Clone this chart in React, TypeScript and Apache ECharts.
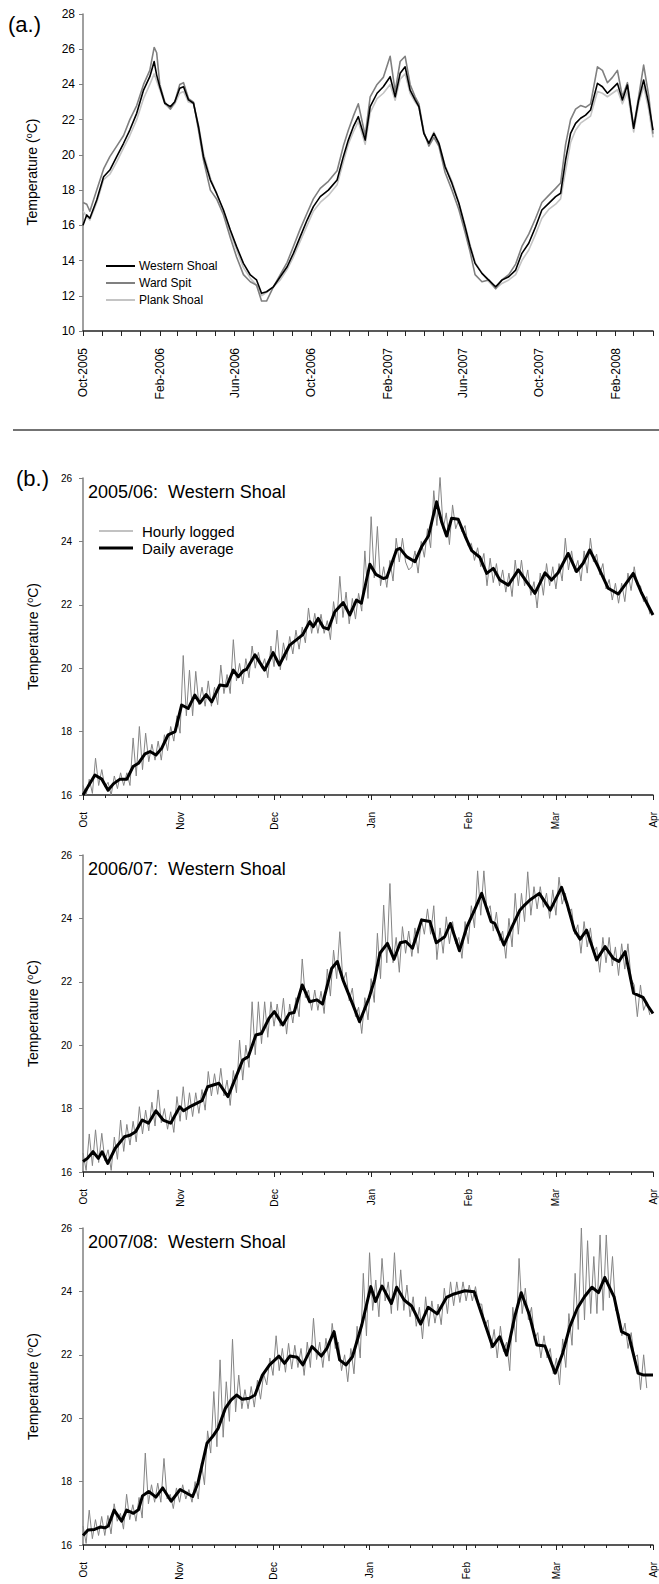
import React, { useEffect, useRef } from "react";
import * as echarts from "echarts";

// ---------- (a.) three sites, daily temperature ----------
const TOP_DAYS = [0,6,11,22,33,43,54,65,75,86,97,107,114,118,123,131,140,147,155,161,169,177,185,193,204,214,225,236,246,257,268,278,286,294,305,316,327,337,348,359,369,380,393,407,417,425,433,441,452,460,471,481,492,500,508,516,524,532,538,546,554,562,570,580,591,602,612,620,628,639,650,661,671,682,693,703,714,725,735,746,757,765,773,781,789,797,805,813,824,832,840,848,856,864,872,882,890,898,906,913];
const WESTERN_SHOAL = [16.0,16.59,16.4,17.44,18.76,19.14,19.9,20.66,21.41,22.36,23.68,24.44,25.3,24.53,23.87,22.93,22.74,23.02,23.78,23.87,23.12,22.93,21.6,19.9,18.57,17.81,16.87,15.73,14.79,13.84,13.18,12.9,12.14,12.23,12.51,13.08,13.65,14.41,15.36,16.3,17.06,17.63,18.0,18.57,19.9,20.84,21.6,22.17,20.84,22.74,23.5,23.87,24.44,23.3,24.63,25.0,23.68,23.12,22.74,21.22,20.66,21.22,20.66,19.33,18.38,17.25,15.92,14.79,13.84,13.27,12.89,12.51,12.89,13.08,13.46,14.41,14.98,15.92,16.87,17.25,17.63,17.82,19.71,21.22,21.79,22.08,22.26,22.55,24.06,23.87,23.5,23.78,24.06,23.12,23.97,21.51,23.12,24.25,22.93,21.41];
const WARD_SPIT = [17.3,17.2,16.8,18.0,19.2,19.9,20.5,21.1,22.0,22.8,24.0,24.8,26.1,25.8,24.0,23.0,22.6,23.0,24.0,24.1,23.2,23.0,21.4,19.7,18.0,17.5,16.6,15.3,14.2,13.2,12.8,12.6,11.7,11.7,12.5,13.2,13.9,14.8,15.8,16.7,17.5,18.1,18.5,19.1,20.5,21.4,22.2,22.9,21.1,23.3,24.0,24.4,25.6,23.6,25.3,25.6,24.0,23.3,22.9,21.3,20.5,21.0,20.5,19.0,18.0,16.9,15.6,14.5,13.2,12.8,12.9,12.4,12.9,13.2,13.8,14.8,15.5,16.4,17.3,17.7,18.1,18.4,20.6,22.0,22.6,22.8,22.7,22.9,25.0,24.8,24.1,24.4,24.8,23.3,24.1,21.6,23.3,25.1,23.4,21.2];
const PLANK_SHOAL = [16.8,16.5,16.3,17.3,18.6,18.9,19.6,20.4,21.1,22.0,23.2,24.0,24.6,24.2,23.7,22.9,22.6,22.9,23.5,23.6,23.0,22.9,21.7,20.1,18.7,17.8,16.8,15.6,14.6,13.6,13.0,12.6,12.0,12.2,12.5,12.9,13.5,14.2,15.1,16.0,16.8,17.3,17.7,18.3,19.6,20.6,21.3,21.9,20.6,22.4,23.2,23.5,24.0,23.1,24.3,24.6,23.5,23.0,22.7,21.2,20.7,21.3,20.7,19.4,18.5,17.3,16.0,14.9,13.9,13.3,12.8,12.4,12.7,12.9,13.2,14.0,14.6,15.5,16.4,16.9,17.2,17.5,19.1,20.7,21.4,21.8,22.0,22.2,23.6,23.5,23.3,23.5,23.7,22.9,23.6,21.3,22.9,23.9,22.6,21.0];
const TOP_TICK_LABELS = ["Oct-2005","Feb-2006","Jun-2006","Oct-2006","Feb-2007","Jun-2007","Oct-2007","Feb-2008"];
const TOP_Y_TICKS = [10, 28, 2];

// ---------- (b.) Western Shoal, daily average (vertices) ----------
const B1_DAYS = [0,3.8,6,8,9.7,11.8,14,16,17.7,19.8,21.4,23.3,25.1,27.2,29.4,31.5,33.6,35.7,37.3,39.3,41.1,43.7,45.9,48,49.6,51.2,52.2,54.9,58,60.7,62.7,66,68.2,70.1,72.4,73.5,75.1,76.7,78.3,80.4,83.1,85.2,87.3,88.9,91.6,93.5,95.9,97,100.1,101.2,103.3,106,108.1,110.3,112.9,114.5,116.1,117.7,119.8,122,124.1,126.7,128.9,131,133.1,135.8,139,141.6,144.3,147.5,149.6,151.7,154.9,157.6,159.7,161.8,164.5,167.7,170.9,173,175.7,178.3,182];
const B1_AVG = [16.0,16.63,16.5,16.15,16.35,16.5,16.5,16.9,17.0,17.3,17.37,17.26,17.47,17.9,18.0,18.84,18.73,19.15,18.9,19.17,18.94,19.47,19.44,19.94,19.73,19.92,19.96,20.42,19.94,20.49,20.1,20.73,20.9,21.05,21.47,21.31,21.57,21.29,21.23,21.78,22.07,21.68,22.15,22.05,23.28,22.96,22.83,22.86,23.73,23.78,23.52,23.36,23.83,24.17,25.25,24.62,24.17,24.73,24.7,24.17,23.71,23.5,22.99,23.15,22.78,22.62,23.1,22.73,22.36,23.01,22.78,23.01,23.62,23.05,23.31,23.73,23.2,22.52,22.34,22.62,22.99,22.38,21.68];
const B2_DAYS = [0,1.4,3.2,4.9,6.1,7.9,10.3,13.2,15,16.8,18.9,20.9,23.3,25.6,28,30.9,32.1,34.5,38,39.8,43.4,46.3,49.3,51,52.8,55.2,57,59.4,61.1,63.8,65.9,67.4,70,72.4,74.7,76.5,79.4,81.2,83,86,88.3,91.3,93.1,94.8,97.2,99.3,101.3,103.1,105.2,108.1,110.8,112.8,115.5,117.3,120.2,122.6,125,127.3,130.3,131.5,134.4,136.8,139.5,141,142.7,145.7,149.2,152.8,154.5,156.9,158.7,160.8,164,166.7,169.3,171.1,173.1,175.8,178.8,180.5,182];
const B2_AVG = [16.33,16.43,16.64,16.43,16.64,16.27,16.75,17.11,17.16,17.27,17.64,17.54,17.93,17.64,17.54,18.06,17.93,18.08,18.25,18.69,18.8,18.38,19.11,19.53,19.64,20.32,20.37,20.85,21.06,20.64,21.0,21.03,21.9,21.37,21.43,21.3,22.42,22.64,22.06,21.32,20.74,21.48,22.06,22.9,23.21,22.71,23.23,23.27,23.06,23.95,23.9,23.23,23.42,23.84,22.98,23.74,24.26,24.79,23.9,23.84,23.16,23.69,24.26,24.42,24.58,24.79,24.26,24.98,24.48,23.63,23.34,23.63,22.69,23.11,22.74,22.64,22.95,21.64,21.51,21.22,21.0];
const B3_DAYS = [0,1.6,3.7,5.7,7,8.1,10,12.4,14,16.2,17.8,19.1,21.1,23.4,25.6,28.3,31.2,35.2,36.9,39.8,41.6,43.4,45.7,47.5,49.3,51.1,53.4,55.2,57.6,59.9,62.9,64.7,66.4,68.8,70.6,73.5,76.5,78.3,80.6,82.4,84.4,86.5,89.5,92.4,93.9,96,99,100.7,103.1,105.5,108.4,110.8,113.7,116.7,119.1,122.6,125.6,127.9,131.5,133.8,136,138.6,140.7,143.3,145.7,148.3,151.6,154,156.3,158.7,161,163.4,165.5,167.5,170.5,172.9,175.2,178.2,180,183];
const B3_AVG = [16.3,16.47,16.49,16.57,16.54,16.6,17.1,16.75,17.1,17.0,17.11,17.55,17.69,17.51,17.8,17.38,17.75,17.53,17.95,19.21,19.42,19.68,20.31,20.57,20.73,20.6,20.63,20.73,21.36,21.68,21.96,21.73,21.96,21.92,21.68,22.26,21.96,22.2,22.73,21.84,21.68,21.94,22.94,24.15,23.68,24.17,23.62,24.13,23.73,23.54,22.97,23.5,23.29,23.81,23.92,24.02,23.99,23.31,22.26,22.57,21.99,23.2,23.96,23.26,22.31,22.28,21.42,22.05,22.89,23.47,23.83,24.13,23.96,24.44,23.83,22.73,22.62,21.42,21.36,21.36];

// ---------- hourly logged: high / low of each 2-day block (day 0, 2, 4 ...) ----------
const B1_HI = [16.3,16.5,17.16,16.8,16.4,16.6,16.7,16.7,17.8,18.16,17.95,17.6,17.7,17.9,18.16,18.5,20.4,19.94,19.9,19.4,19.6,19.4,20.1,19.8,20.9,20.15,20.3,20.7,20.5,20.3,20.7,21.2,20.8,21.0,21.2,21.3,21.9,21.73,21.7,21.5,22.1,22.9,22.4,22.2,22.36,23.7,24.78,24.47,23.2,23.4,24.1,24.1,23.1,23.7,24.0,24.4,25.6,26.04,24.9,25.15,24.7,24.5,23.94,23.8,23.62,23.47,23.3,23.1,23.0,23.41,23.41,23.1,22.73,23.0,23.3,23.2,23.3,24.1,23.7,23.4,23.7,24.1,23.6,23.3,22.8,22.68,22.68,23.0,23.2,22.6,22.26];
const B1_LO = [16.0,16.05,16.3,16.25,16.0,16.2,16.3,16.3,16.6,16.8,17.05,17.1,17.1,17.4,17.7,17.95,18.5,18.5,18.85,18.8,18.8,18.85,19.2,19.2,19.6,19.5,19.7,20.0,20.0,19.7,20.05,19.95,20.25,20.45,20.6,20.8,21.1,21.1,21.1,20.9,21.4,21.6,21.4,21.55,21.8,22.2,22.85,22.6,22.55,22.75,23.35,23.35,23.2,23.0,23.5,23.8,24.5,24.4,23.9,24.4,24.3,23.85,23.4,23.2,22.6,22.7,22.6,22.4,22.26,22.6,22.6,22.3,21.9,22.3,22.6,22.5,22.75,23.1,23.05,22.75,23.0,23.35,22.95,22.5,22.15,22.05,22.1,22.45,22.6,22.1,21.7];
const B2_HI = [16.6,17.2,17.33,17.22,16.7,17.1,17.64,17.5,17.6,18.06,17.95,18.2,18.59,18.0,17.9,18.38,18.69,18.5,18.5,18.6,19.17,19.1,19.27,18.9,19.2,20.16,20.0,21.37,21.37,21.37,21.37,21.3,21.48,21.3,21.5,22.72,21.74,21.74,21.7,22.4,23.0,23.58,22.3,21.8,21.2,21.5,22.1,23.53,24.42,25.1,23.4,23.74,23.6,23.7,24.0,24.3,24.4,23.7,24.05,23.9,23.4,23.9,24.4,25.5,25.5,24.4,24.2,23.6,24.0,24.79,24.79,25.47,25.0,25.0,24.8,24.9,25.3,24.8,24.3,23.8,23.9,23.7,23.1,23.4,23.4,23.1,23.2,23.2,21.9,21.9,21.37];
const B2_LO = [16.05,16.2,16.3,16.35,16.05,16.4,16.65,16.85,16.95,17.2,17.3,17.45,17.55,17.35,17.25,17.6,17.65,17.75,17.85,17.95,18.4,18.45,18.4,18.1,18.5,18.9,19.3,19.7,20.05,20.25,20.6,20.6,20.35,20.7,20.9,21.5,21.1,21.1,21.0,21.55,22.1,22.0,21.4,20.9,20.37,20.8,21.35,22.1,22.6,22.6,22.3,22.9,22.8,22.9,23.5,23.5,22.7,22.9,23.2,23.2,22.74,23.2,23.7,24.1,24.2,23.6,23.3,22.74,23.1,23.5,23.9,24.1,24.3,24.35,24.0,24.1,24.45,24.2,23.5,22.9,23.1,22.9,22.3,22.6,22.5,22.2,22.4,22.1,20.9,21.1,20.95];
const B3_HI = [16.6,17.1,16.8,16.9,16.93,17.3,17.0,17.6,17.27,17.5,18.9,17.9,17.95,18.73,17.6,17.8,17.9,17.75,18.0,18.58,19.6,20.84,21.84,21.15,22.49,21.36,20.9,21.0,21.2,21.4,21.9,22.6,22.2,22.36,22.3,22.2,22.4,23.15,22.4,22.52,22.99,22.4,22.0,22.2,22.9,24.57,25.22,24.36,25.04,24.3,25.22,24.68,24.2,23.83,23.5,23.83,23.7,23.6,24.1,24.3,24.3,24.3,24.2,24.15,23.6,23.1,22.8,22.9,22.4,23.5,25.04,24.1,23.5,22.7,22.6,22.2,21.9,22.5,23.3,24.57,26.0,25.6,25.1,25.78,25.78,25.1,23.3,23.0,22.7,22.0,22.0];
const B3_LO = [16.05,16.2,16.3,16.3,16.35,16.75,16.5,16.8,16.75,16.85,17.3,17.35,17.35,17.45,17.15,17.35,17.45,17.35,17.45,17.9,18.9,19.1,19.4,19.9,20.2,20.3,20.3,20.35,20.6,21.05,21.35,21.5,21.45,21.55,21.6,21.35,21.6,21.85,21.6,21.8,22.2,21.5,21.15,21.4,21.9,22.6,23.4,23.2,23.7,23.3,23.4,23.4,23.2,22.9,22.5,22.9,23.0,22.95,23.3,23.55,23.65,23.7,23.7,23.6,22.9,22.2,21.9,22.1,21.5,22.4,23.3,23.1,22.5,21.9,21.9,21.4,21.05,21.6,22.3,22.8,23.1,23.3,23.3,23.4,23.8,23.4,22.6,22.2,21.9,20.9,20.95];

const B_MONTH_LABELS = ["Oct","Nov","Dec","Jan","Feb","Mar","Apr"];
const B_TITLES = ["2005/06:  Western Shoal","2006/07:  Western Shoal","2007/08:  Western Shoal"];
const B_START_YEARS = [2005, 2006, 2007];
const B_Y_TICKS = [16, 26, 2];
const SITE_NAMES = ["Western Shoal","Ward Spit","Plank Shoal"];
const B_LEGEND = ["Hourly logged","Daily average"];

const FONT = "'Liberation Sans', Arial, Helvetica, sans-serif";
const DAY = 86400000;

function zip(xs: number[], ys: number[]) {
  return xs.map((x, i) => [x, ys[i]]);
}
function zigzag(hi: number[], lo: number[]) {
  const out: number[][] = [];
  hi.forEach((h, i) => {
    out.push([2 * i, h]);
    out.push([2 * i + 1, lo[i]]);
  });
  return out;
}

function buildOption() {
  const grids = [
    { left: 83, top: 14, width: 570, height: 317 },
    { left: 83, top: 478, width: 570, height: 317 },
    { left: 83, top: 855, width: 570, height: 317 },
    { left: 83, top: 1228, width: 570, height: 317 },
  ];

  const topStart = Date.UTC(2005, 9, 1);
  const topMonthDays: number[] = [];
  for (let i = 0; i <= 30; i++) topMonthDays.push(Math.round((Date.UTC(2005, 9 + i, 1) - topStart) / DAY));
  const topLabelDays = TOP_TICK_LABELS.map((_, i) => topMonthDays[i * 4]);
  const topMax = topMonthDays[30];

  const xAxes: any[] = [
    {
      type: "value", gridIndex: 0, min: 0, max: topMax, position: "bottom",
      axisLine: { show: true, lineStyle: { color: "#222", width: 1.5 } },
      axisTick: { show: true, length: 5, lineStyle: { color: "#222", width: 1 }, customValues: topMonthDays },
      axisLabel: {
        show: true, rotate: 90, margin: 17, fontSize: 12, color: "#000", fontFamily: FONT,
        customValues: topLabelDays,
        formatter: (v: number) => {
          const k = topLabelDays.findIndex((d) => Math.abs(d - v) < 0.5);
          return k >= 0 ? TOP_TICK_LABELS[k] : "";
        },
      },
      splitLine: { show: false },
    },
  ];
  const yAxes: any[] = [
    {
      type: "value", gridIndex: 0, min: TOP_Y_TICKS[0], max: TOP_Y_TICKS[1], interval: TOP_Y_TICKS[2],
      axisLine: { show: true, lineStyle: { color: "#808080", width: 1.5 } },
      axisTick: { show: true, length: 4, lineStyle: { color: "#808080" } },
      axisLabel: { margin: 8, fontSize: 12, color: "#000", fontFamily: FONT },
      splitLine: { show: false },
    },
  ];

  const bMonthDays = B_START_YEARS.map((y) => {
    const s = Date.UTC(y, 9, 1);
    return B_MONTH_LABELS.map((_, k) => Math.round((Date.UTC(y, 9 + k, 1) - s) / DAY));
  });

  B_START_YEARS.forEach((_, p) => {
    const md = bMonthDays[p];
    const max = md[md.length - 1];
    xAxes.push({
      type: "value", gridIndex: p + 1, min: 0, max, position: "bottom",
      axisLine: { show: true, lineStyle: { color: "#222", width: 1.5 } },
      axisTick: { show: true, length: 5, lineStyle: { color: "#222", width: 1 }, customValues: md },
      axisLabel: {
        show: true, rotate: 90, margin: 17, fontSize: 10, color: "#000", fontFamily: FONT,
        customValues: md,
        formatter: (v: number) => {
          const k = md.findIndex((d) => Math.abs(d - v) < 0.5);
          return k >= 0 ? B_MONTH_LABELS[k] : "";
        },
      },
      splitLine: { show: false },
    });
    xAxes.push({
      type: "value", gridIndex: p + 1, min: 0, max, interval: 7, position: "bottom",
      axisLine: { show: false },
      axisTick: { show: true, length: 3, lineStyle: { color: "#222", width: 1 } },
      axisLabel: { show: false },
      splitLine: { show: false },
    });
    yAxes.push({
      type: "value", gridIndex: p + 1, min: B_Y_TICKS[0], max: B_Y_TICKS[1], interval: B_Y_TICKS[2],
      axisLine: { show: true, lineStyle: { color: "#808080", width: 1.5 } },
      axisTick: { show: true, length: 4, lineStyle: { color: "#808080" } },
      axisLabel: { margin: 11, fontSize: 10, color: "#000", fontFamily: FONT },
      splitLine: { show: false },
    });
  });

  const line = (name: string, xi: number, yi: number, data: number[][], color: string, width: number, z: number) => ({
    name, type: "line", xAxisIndex: xi, yAxisIndex: yi, data, showSymbol: false, symbol: "none",
    lineStyle: { color, width, join: "round" }, itemStyle: { color }, z, clip: true,
  });

  const series: any[] = [
    line(SITE_NAMES[2], 0, 0, zip(TOP_DAYS, PLANK_SHOAL), "#c4c4c4", 1.6, 2),
    line(SITE_NAMES[1], 0, 0, zip(TOP_DAYS, WARD_SPIT), "#808080", 1.6, 3),
    line(SITE_NAMES[0], 0, 0, zip(TOP_DAYS, WESTERN_SHOAL), "#000000", 1.6, 4),
  ];
  const his = [B1_HI, B2_HI, B3_HI];
  const los = [B1_LO, B2_LO, B3_LO];
  const days = [B1_DAYS, B2_DAYS, B3_DAYS];
  const avgs = [B1_AVG, B2_AVG, B3_AVG];
  for (let p = 0; p < 3; p++) {
    series.push(line(B_LEGEND[0], 1 + p * 2, p + 1, zigzag(his[p], los[p]), "#858585", 1, 2));
    series.push(line(B_LEGEND[1], 1 + p * 2, p + 1, zip(days[p], avgs[p]), "#000000", 3, 3));
  }

  const txt = (text: string, x: number, y: number, size: number, extra: any = {}) => ({
    type: "text", x, y, silent: true,
    style: { text, fontSize: size, fontFamily: FONT, fill: "#000", align: "left", verticalAlign: "middle", ...extra },
  });
  const seg = (x1: number, x2: number, y: number, color: string, w: number) => ({
    type: "line", silent: true, shape: { x1, y1: y, x2, y2: y }, style: { stroke: color, lineWidth: w },
  });
  const yName = (x: number, y: number) => ({
    type: "text", x, y, rotation: Math.PI / 2, silent: true,
    style: {
      text: "Temperature ({sup|o}C)", fontSize: 14, fontFamily: FONT, fill: "#000",
      align: "center", verticalAlign: "middle", lineHeight: 16,
      rich: { sup: { fontSize: 9, fontFamily: FONT, lineHeight: 9, verticalAlign: "top", fill: "#000" } },
    },
  });

  const graphic: any[] = [
    txt("(a.)", 8, 24, 22),
    yName(32, 172),
    seg(106, 135, 266, "#000000", 2),
    seg(106, 135, 283, "#808080", 2),
    seg(106, 135, 300, "#c4c4c4", 2),
    txt(SITE_NAMES[0], 139, 266, 12),
    txt(SITE_NAMES[1], 139, 283, 12),
    txt(SITE_NAMES[2], 139, 300, 12),
    seg(13, 659, 430, "#444444", 1.5),
    txt("(b.)", 16, 478, 22),
    seg(99, 133, 531, "#858585", 1),
    seg(99, 133, 548, "#000000", 3),
    txt(B_LEGEND[0], 142, 531, 15),
    txt(B_LEGEND[1], 142, 548, 15),
  ];
  const titleY = [492, 869, 1242];
  grids.slice(1).forEach((g, p) => {
    graphic.push(txt(B_TITLES[p], 88, titleY[p], 18));
    graphic.push(yName(33, g.top + g.height / 2));
  });

  return {
    animation: false,
    backgroundColor: "#ffffff",
    textStyle: { fontFamily: FONT },
    grid: grids.map((g) => ({ ...g, containLabel: false })),
    xAxis: xAxes,
    yAxis: yAxes,
    series,
    graphic,
  };
}

export default function App() {
  const ref = useRef<HTMLDivElement>(null);
  useEffect(() => {
    if (!ref.current) return;
    const chart = echarts.init(ref.current, null, { renderer: "svg" });
    chart.setOption(buildOption() as any);
    return () => chart.dispose();
  }, []);
  return (
    <div
      ref={ref}
      style={{ position: "absolute", left: 0, top: 0, width: 659, height: 1584, background: "#fff" }}
    />
  );
}
